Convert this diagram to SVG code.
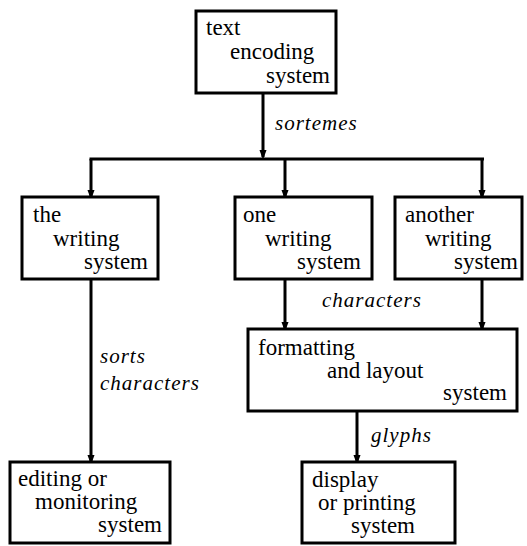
<svg xmlns="http://www.w3.org/2000/svg" width="527" height="546" viewBox="0 0 527 546">
<style>
.box{fill:#fff;stroke:#000;stroke-width:3}
.t{font-size:23px;fill:#000}
.lbl{font-size:21px;font-style:italic;fill:#000;letter-spacing:1px}
.c{fill:none;stroke:#000;stroke-width:3}
</style>
<defs>
<marker id="ah" markerWidth="10" markerHeight="14" refX="10" refY="5" orient="auto" markerUnits="userSpaceOnUse" viewBox="0 0 14 10">
<path d="M0,0 L14,5 L0,10 Z" fill="#000"/>
</marker>
</defs>
<rect width="527" height="546" fill="#fff"/>
<g font-family="Liberation Serif, DejaVu Serif, serif">
<g id="connectors">
<line class="c" x1="263" y1="93" x2="263" y2="157" marker-end="url(#ah)"/>
<line class="c" x1="89.5" y1="159" x2="484" y2="159"/>
<line class="c" x1="91" y1="159" x2="91" y2="197" marker-end="url(#ah)"/>
<line class="c" x1="285" y1="159" x2="285" y2="197" marker-end="url(#ah)"/>
<line class="c" x1="482" y1="159" x2="482" y2="197" marker-end="url(#ah)"/>
<line class="c" x1="91" y1="279" x2="91" y2="462" marker-end="url(#ah)"/>
<line class="c" x1="285" y1="279" x2="285" y2="329" marker-end="url(#ah)"/>
<line class="c" x1="482" y1="279" x2="482" y2="329" marker-end="url(#ah)"/>
<line class="c" x1="357" y1="411" x2="357" y2="462" marker-end="url(#ah)"/>
<text class="lbl" x="275" y="130">sortemes</text>
<text class="lbl" x="322" y="307">characters</text>
<text class="lbl" x="100" y="363">sorts</text>
<text class="lbl" x="100" y="390">characters</text>
<text class="lbl" x="371" y="442">glyphs</text>
</g>
<g id="text-encoding">
<rect class="box" x="196" y="11" width="140" height="82"/>
<text class="t" x="206" y="35">text</text>
<text class="t" x="230" y="59">encoding</text>
<text class="t" x="330" y="83" text-anchor="end">system</text>
</g>
<g id="the-writing">
<rect class="box" x="22" y="197" width="136" height="82"/>
<text class="t" x="33" y="222">the</text>
<text class="t" x="53" y="246">writing</text>
<text class="t" x="148" y="269" text-anchor="end">system</text>
</g>
<g id="one-writing">
<rect class="box" x="235" y="197" width="137" height="82"/>
<text class="t" x="243" y="222">one</text>
<text class="t" x="265" y="246">writing</text>
<text class="t" x="361" y="269" text-anchor="end">system</text>
</g>
<g id="another-writing">
<rect class="box" x="395" y="197" width="127" height="82"/>
<text class="t" x="405" y="222">another</text>
<text class="t" x="425" y="246">writing</text>
<text class="t" x="518" y="269" text-anchor="end">system</text>
</g>
<g id="formatting">
<rect class="box" x="248" y="329" width="269" height="82"/>
<text class="t" x="258" y="355">formatting</text>
<text class="t" x="327" y="378">and layout</text>
<text class="t" x="507" y="400" text-anchor="end">system</text>
</g>
<g id="editing">
<rect class="box" x="10" y="462" width="160" height="81"/>
<text class="t" x="18" y="486">editing or</text>
<text class="t" x="35" y="509">monitoring</text>
<text class="t" x="162" y="532" text-anchor="end">system</text>
</g>
<g id="display">
<rect class="box" x="302" y="462" width="153" height="81"/>
<text class="t" x="312" y="487">display</text>
<text class="t" x="318" y="510">or printing</text>
<text class="t" x="415" y="533" text-anchor="end">system</text>
</g>
</g>
</svg>
